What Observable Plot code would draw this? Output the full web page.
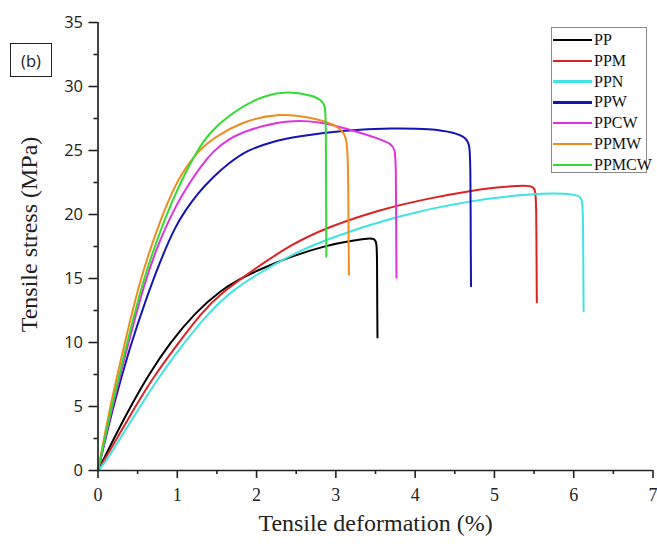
<!DOCTYPE html>
<html>
<head>
<meta charset="utf-8">
<script src="https://cdn.jsdelivr.net/npm/d3@7"></script>
<script src="https://cdn.jsdelivr.net/npm/@observablehq/plot@0.6"></script>
<style>
  html, body { margin: 0; padding: 0; background: #fff; }
  #wrap { position: relative; width: 657px; height: 544px; overflow: hidden; }
  #legend { position: absolute; left: 551px; top: 27px; width: 96px; height: 146px;
    border: 1px solid #8a8a8a; background: #fff; box-sizing: border-box; }
  .row { position: absolute; left: 1px; height: 20px; display: flex; align-items: center; }
  .sw { width: 39px; height: 2.5px; margin-right: 2px; }
  .lab { font-family: "Liberation Serif", serif; font-size: 16px; color: #111; }
  #tag { position: absolute; left: 10px; top: 43px; width: 42px; height: 34px; box-sizing: border-box;
    border: 1px solid #222; font-family: "Open Sans", sans-serif; font-size: 16.5px;
    display: flex; align-items: center; justify-content: center; color: #222; }
</style>
</head>
<body>
<div id="wrap"></div>
<script>
// ---- data ----
const seriesNames = ["PP", "PPM", "PPN", "PPW", "PPCW", "PPMW", "PPMCW"];
const seriesColors = ["#000000", "#dc2222", "#3fe3e3", "#1414b4", "#e033e0", "#f08c1e", "#32dc32"];

const PP_x = [0, 0.2, 0.41, 0.64, 0.91, 1.22, 1.55, 1.8, 2.0, 2.42, 2.89, 3.2, 3.42, 3.49, 3.515, 3.52, 3.522, 3.525];
const PP_y = [0, 2.5, 5.0, 7.5, 10.0, 12.3, 14.1, 15.0, 15.6, 16.7, 17.6, 17.95, 18.15, 18.1, 17.8, 16.5, 12.5, 10.4];

const PPM_x = [0, 0.24, 0.47, 0.72, 1.02, 1.3, 1.56, 2.0, 2.42, 2.89, 3.56, 4.2, 4.7, 5.0, 5.3, 5.46, 5.515, 5.528, 5.532, 5.535];
const PPM_y = [0, 2.5, 5.0, 7.5, 10.0, 12.3, 13.9, 15.85, 17.6, 19.0, 20.4, 21.3, 21.85, 22.1, 22.25, 22.25, 22.05, 21.0, 15.5, 13.15];

const PPN_x = [0, 0.1, 0.28, 0.53, 0.79, 1.09, 1.39, 1.68, 2.0, 2.42, 2.89, 3.77, 4.7, 5.3, 5.6, 5.9, 6.05, 6.105, 6.118, 6.122, 6.125];
const PPN_y = [0, 0.7, 2.5, 5.0, 7.5, 10.0, 12.3, 14.0, 15.3, 16.8, 18.1, 19.9, 21.1, 21.5, 21.65, 21.65, 21.5, 21.3, 20.3, 14.5, 12.45];

const PPW_x = [0, 0.19, 0.4, 0.6, 0.8, 0.97, 1.1, 1.25, 1.46, 1.65, 1.87, 2.2, 2.5, 3.13, 3.7, 4.2, 4.5, 4.64, 4.685, 4.698, 4.702, 4.705];
const PPW_y = [0, 5.0, 9.6, 13.3, 16.6, 19.0, 20.3, 21.6, 23.0, 24.0, 25.0, 25.7, 26.1, 26.6, 26.75, 26.7, 26.4, 26.0, 25.5, 24.2, 16.5, 14.4];

const PPCW_x = [0, 0.18, 0.385, 0.6, 0.8, 0.93, 1.04, 1.16, 1.3, 1.46, 1.65, 1.88, 2.39, 2.8, 3.14, 3.56, 3.7, 3.745, 3.758, 3.762, 3.765];
const PPCW_y = [0, 5.0, 10.0, 15.0, 18.3, 20.0, 21.3, 22.5, 23.8, 25.0, 25.9, 26.6, 27.4, 27.25, 26.7, 25.9, 25.5, 25.1, 24.0, 17.0, 15.05];

const PPMW_x = [0, 0.15, 0.34, 0.53, 0.81, 0.97, 1.04, 1.17, 1.29, 1.46, 1.8, 2.26, 2.72, 2.95, 3.08, 3.13, 3.155, 3.161, 3.165];
const PPMW_y = [0, 5.0, 10.0, 15.0, 20.0, 22.2, 23.0, 24.2, 25.1, 26.0, 27.2, 27.95, 27.55, 27.1, 26.6, 26.0, 24.8, 17.5, 15.3];

const PPMCW_x = [0, 0.17, 0.37, 0.57, 0.86, 1.04, 1.25, 1.41, 1.62, 1.96, 2.34, 2.72, 2.82, 2.865, 2.875, 2.878, 2.88];
const PPMCW_y = [0, 5.0, 10.0, 15.0, 20.0, 22.5, 25.0, 26.4, 27.6, 29.0, 29.7, 29.3, 28.9, 28.5, 27.5, 19.0, 16.7];

const xMajorTicks = [0, 1, 2, 3, 4, 5, 6, 7];
const xMinorTicks = [0.5, 1.5, 2.5, 3.5, 4.5, 5.5, 6.5];
const yMajorTicks = [0, 5, 10, 15, 20, 25, 30, 35];
const yMinorTicks = [2.5, 7.5, 12.5, 17.5, 22.5, 27.5, 32.5];
const xTitle = "Tensile deformation (%)";
const yTitle = "Tensile stress (MPa)";
const panelTag = "(b)";

// ---- build table ----
const xsAll = [PP_x, PPM_x, PPN_x, PPW_x, PPCW_x, PPMW_x, PPMCW_x];
const ysAll = [PP_y, PPM_y, PPN_y, PPW_y, PPCW_y, PPMW_y, PPMCW_y];
const rows = [];
seriesNames.forEach((name, i) => {
  xsAll[i].forEach((x, j) => rows.push({series: name, x, y: ysAll[i][j]}));
});

const serif = "Liberation Serif, serif";
const sans = "Open Sans, sans-serif";

const chart = Plot.plot({
  width: 657,
  height: 544,
  marginLeft: 97.5,
  marginRight: 4.5,
  marginTop: 22,
  marginBottom: 74,
  style: {background: "transparent", overflow: "visible"},
  x: {domain: [xMajorTicks[0], xMajorTicks[xMajorTicks.length - 1]], label: null},
  y: {domain: [yMajorTicks[0], yMajorTicks[yMajorTicks.length - 1]], label: null},
  color: {domain: seriesNames, range: seriesColors},
  marks: [
    Plot.line(rows, {x: "x", y: "y", z: "series", stroke: "series", strokeWidth: 2, curve: "basis"}),
    Plot.ruleY([yMajorTicks[0]], {stroke: "#222", strokeWidth: 1.7}),
    Plot.ruleX([xMajorTicks[0]], {stroke: "#222", strokeWidth: 1.7}),
    Plot.axisX({ticks: xMajorTicks, tickSize: 8, tickPadding: 10, strokeWidth: 1.6, stroke: "#222",
      fontSize: 18, fontFamily: serif, fill: "#222", label: null, tickFormat: d => String(d)}),
    Plot.axisX({ticks: xMinorTicks, tickSize: 4, strokeWidth: 1.6, stroke: "#222", label: null, tickFormat: () => ""}),
    Plot.axisY({ticks: yMajorTicks, tickSize: 9, tickPadding: 6, strokeWidth: 1.6, stroke: "#222",
      fontSize: 16.5, fontFamily: sans, fill: "#222", label: null, tickFormat: d => String(d)}),
    Plot.axisY({ticks: yMinorTicks, tickSize: 4, strokeWidth: 1.6, stroke: "#222", label: null, tickFormat: () => ""}),
    Plot.text([xTitle], {text: d => d, frameAnchor: "bottom", dy: 60, fontSize: 24, fontFamily: serif, fill: "#222"}),
    Plot.text([yTitle], {text: d => d, frameAnchor: "left", textAnchor: "middle", rotate: -90, dx: -69, dy: -12,
      fontSize: 24, fontFamily: serif, fill: "#222"})
  ]
});

const wrap = document.getElementById("wrap");
wrap.appendChild(chart);

// panel tag
const tag = document.createElement("div");
tag.id = "tag";
tag.textContent = panelTag;
wrap.appendChild(tag);

// legend
const lg = document.createElement("div");
lg.id = "legend";
seriesNames.forEach((name, i) => {
  const r = document.createElement("div");
  r.className = "row";
  r.style.top = (2 + i * 20.8) + "px";
  const sw = document.createElement("div");
  sw.className = "sw";
  sw.style.background = seriesColors[i];
  const lb = document.createElement("span");
  lb.className = "lab";
  lb.textContent = name;
  r.appendChild(sw); r.appendChild(lb);
  lg.appendChild(r);
});
wrap.appendChild(lg);
</script>
</body>
</html>
